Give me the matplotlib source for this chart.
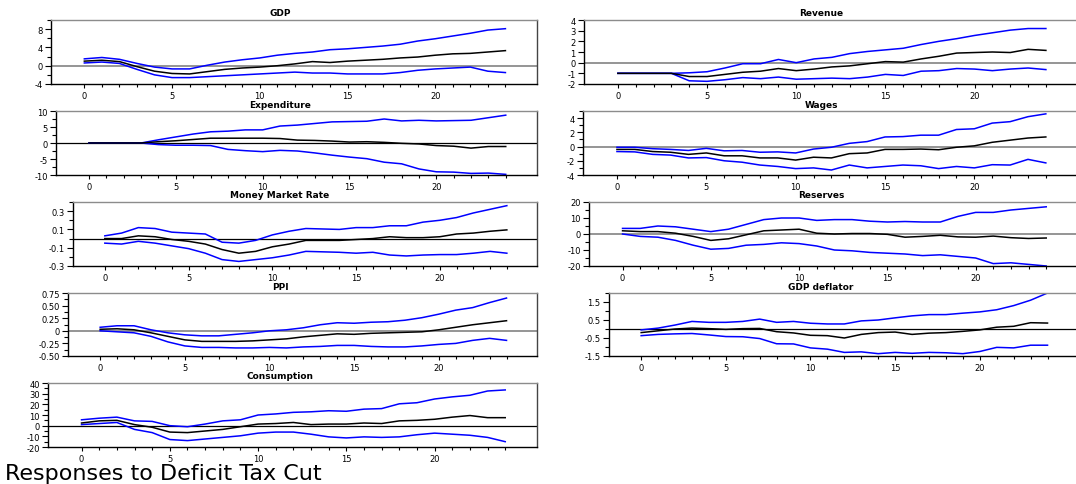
import matplotlib
matplotlib.use("Agg")
import matplotlib.pyplot as plt
from matplotlib.ticker import MultipleLocator

plt.rcParams['font.family'] = ['DejaVu Sans']

horizon = list(range(25))

# impulse responses: lower band, point estimate, upper band
gdp_mid = [1.0, 1.2, 0.9, -0.2, -1.2, -1.7, -1.8, -1.3, -0.8, -0.5, -0.3, 0.0, 0.4,
           0.9, 0.7, 1.0, 1.2, 1.4, 1.7, 1.9, 2.3, 2.6, 2.7, 3.0, 3.3]
gdp_up = [1.5, 1.8, 1.4, 0.5, -0.3, -0.7, -0.7, 0.1, 0.8, 1.3, 1.7, 2.3, 2.7,
          3.0, 3.5, 3.7, 4.0, 4.3, 4.7, 5.4, 5.9, 6.5, 7.1, 7.8, 8.1]
gdp_lo = [0.6, 0.8, 0.5, -0.8, -2.0, -2.6, -2.6, -2.4, -2.2, -2.0, -1.8, -1.6, -1.4,
          -1.6, -1.6, -1.8, -1.8, -1.8, -1.5, -1.0, -0.7, -0.5, -0.3, -1.2, -1.5]

rev_mid = [-1.0, -1.0, -1.0, -1.0, -1.3, -1.3, -1.1, -0.9, -0.8, -0.55, -0.75, -0.6, -0.4,
           -0.3, -0.1, 0.1, 0.05, 0.35, 0.6, 0.9, 0.95, 1.0, 0.95, 1.25, 1.15]
rev_up = [-1.0, -1.0, -1.0, -1.0, -0.95, -0.85, -0.5, -0.1, -0.1, 0.3, 0.0, 0.35, 0.5,
          0.85, 1.05, 1.2, 1.35, 1.7, 2.0, 2.25, 2.55, 2.8, 3.05, 3.2, 3.2]
rev_lo = [-1.0, -1.0, -1.0, -1.0, -1.7, -1.75, -1.6, -1.4, -1.5, -1.35, -1.55, -1.5, -1.45,
          -1.5, -1.35, -1.1, -1.2, -0.8, -0.75, -0.55, -0.6, -0.75, -0.6, -0.5, -0.65]

exp_mid = [0, 0, 0, 0, 0.4, 0.7, 1.1, 1.5, 1.5, 1.5, 1.5, 1.4, 0.9,
           0.8, 0.6, 0.3, 0.4, 0.2, -0.1, -0.3, -0.8, -1.0, -1.6, -1.1, -1.1]
exp_up = [0, 0, 0, 0, 1.0, 1.9, 2.8, 3.5, 3.7, 4.1, 4.1, 5.3, 5.6,
          6.1, 6.6, 6.7, 6.8, 7.5, 6.9, 7.1, 6.9, 7.0, 7.1, 7.9, 8.7]
exp_lo = [0, 0, 0, 0, -0.5, -0.7, -0.7, -0.8, -2.0, -2.4, -2.7, -2.3, -2.5,
          -3.1, -3.8, -4.4, -4.9, -6.0, -6.5, -8.1, -9.0, -9.1, -9.5, -9.4, -9.8]

wag_mid = [-0.4, -0.4, -0.7, -0.8, -1.1, -0.9, -1.3, -1.3, -1.6, -1.6, -1.9, -1.5, -1.6,
           -1.0, -0.9, -0.4, -0.4, -0.35, -0.45, -0.1, 0.1, 0.6, 0.9, 1.2, 1.35]
wag_up = [-0.1, -0.1, -0.3, -0.4, -0.55, -0.25, -0.6, -0.55, -0.8, -0.75, -0.9, -0.35, -0.1,
          0.45, 0.7, 1.35, 1.4, 1.6, 1.6, 2.4, 2.5, 3.3, 3.5, 4.2, 4.6]
wag_lo = [-0.7, -0.75, -1.1, -1.2, -1.6, -1.55, -2.0, -2.2, -2.6, -2.8, -3.1, -3.0, -3.3,
          -2.6, -3.0, -2.8, -2.6, -2.7, -3.1, -2.8, -3.0, -2.55, -2.6, -1.8, -2.3]

mmr_mid = [0.0, 0.0, 0.03, 0.02, -0.01, -0.03, -0.06, -0.12, -0.16, -0.14, -0.09, -0.06, -0.02,
           -0.02, -0.02, -0.01, 0.0, 0.02, 0.01, 0.01, 0.02, 0.05, 0.06, 0.08, 0.095]
mmr_up = [0.03, 0.06, 0.12, 0.11, 0.07, 0.06, 0.05, -0.04, -0.05, -0.02, 0.04, 0.08, 0.11,
          0.105, 0.10, 0.12, 0.12, 0.14, 0.14, 0.18, 0.20, 0.23, 0.28, 0.32, 0.36]
mmr_lo = [-0.05, -0.06, -0.03, -0.05, -0.08, -0.11, -0.16, -0.23, -0.25, -0.23, -0.21, -0.18, -0.14,
          -0.145, -0.15, -0.16, -0.15, -0.18, -0.19, -0.18, -0.175, -0.175, -0.16, -0.14, -0.16]

res_mid = [2, 1.5, 1.5, 0.5, -1.5, -4, -3, -0.5, 2, 2.5, 3, 0.5, 0,
           0.3, 0.3, -0.2, -2, -1.5, -0.8, -1.8, -2, -1.3, -2.3, -2.8, -2.5]
res_up = [3.5, 3.5, 5, 4.5, 3, 1.5, 3, 6, 9, 10, 10, 8.5, 9,
          9, 8, 7.5, 7.8, 7.5, 7.5, 11, 13.5, 13.5, 15, 16, 17]
res_lo = [0, -1.5, -2, -4, -7, -9.5, -9, -7, -6.5, -5.5, -6, -7.5, -10,
          -10.5, -11.5, -12, -12.5, -13.5, -13, -14, -15, -18.5, -18, -19, -20]

ppi_mid = [0.03, 0.04, 0.02, -0.04, -0.11, -0.18, -0.21, -0.21, -0.21, -0.20, -0.18, -0.16, -0.12,
           -0.09, -0.06, -0.07, -0.05, -0.04, -0.03, -0.02, 0.02, 0.07, 0.12, 0.16, 0.20]
ppi_up = [0.07, 0.10, 0.10, 0.02, -0.04, -0.08, -0.10, -0.10, -0.07, -0.04, 0.0, 0.02, 0.06,
          0.12, 0.16, 0.15, 0.17, 0.18, 0.21, 0.26, 0.33, 0.41, 0.46, 0.56, 0.65]
ppi_lo = [0.0, -0.02, -0.04, -0.11, -0.22, -0.30, -0.33, -0.33, -0.34, -0.34, -0.33, -0.34, -0.32,
          -0.31, -0.29, -0.29, -0.31, -0.32, -0.32, -0.30, -0.27, -0.25, -0.19, -0.15, -0.19]

def_mid = [-0.2, -0.1, 0.0, 0.05, 0.02, -0.02, 0.02, 0.03, -0.15, -0.22, -0.35, -0.37, -0.5,
           -0.3, -0.2, -0.17, -0.3, -0.23, -0.2, -0.13, -0.05, 0.1, 0.15, 0.35, 0.33]
def_up = [-0.05, 0.05, 0.22, 0.42, 0.37, 0.37, 0.42, 0.55, 0.37, 0.42, 0.32, 0.28, 0.28,
          0.45, 0.5, 0.62, 0.73, 0.8, 0.8, 0.88, 0.95, 1.07, 1.3, 1.6, 2.0]
def_lo = [-0.37, -0.3, -0.27, -0.25, -0.33, -0.42, -0.43, -0.53, -0.82, -0.83, -1.05, -1.12, -1.3,
          -1.27, -1.37, -1.3, -1.35, -1.3, -1.32, -1.37, -1.25, -1.02, -1.05, -0.9, -0.9]

con_mid = [2.5, 4.5, 5, 1, -1.5, -6, -6.5, -5, -3.5, -1, 1.5, 2, 3,
           1, 1.5, 1.5, 2.5, 2, 4.5, 5, 6, 8, 9.5, 7.5, 7.5]
con_up = [5.5, 7, 8, 4.5, 4, 0, -1, 1.5, 4.5, 5.5, 10, 11, 12.5,
          13, 14, 13.5, 15.5, 16, 20.5, 21.5, 25, 27, 28.5, 32.5, 33.5]
con_lo = [1, 2, 3, -3.5, -6.5, -13, -14, -12.5, -11, -9.5, -7, -6, -6,
          -8, -10.5, -11.5, -10.5, -11, -10.5, -8.5, -7, -8, -9, -11, -15]

W, H = 1076, 485
fig = plt.figure(figsize=(W / 100, H / 100), dpi=100)

# title, series, ylim, major step, minor step, tick format, zero colour, box in px (left, top, right, bottom)
panels = [
    ("GDP", gdp_lo, gdp_mid, gdp_up, (-4, 10), 4, 2, "{:g}", "#8c8c8c", (51, 21, 537, 85), 280),
    ("Revenue", rev_lo, rev_mid, rev_up, (-2, 4), 1, 1, "{:g}", "#8c8c8c", (584, 21, 1078, 85), 821),
    ("Expenditure", exp_lo, exp_mid, exp_up, (-10, 10), 5, 2.5, "{:g}", "black", (56, 112, 537, 176), 280),
    ("Wages", wag_lo, wag_mid, wag_up, (-4, 5), 2, 1, "{:g}", "#8c8c8c", (583, 112, 1078, 176), 821),
    ("Money Market Rate", mmr_lo, mmr_mid, mmr_up, (-0.3, 0.4), 0.2, 0.1, "{:.1f}", "black", (73, 203, 537, 267), 280),
    ("Reserves", res_lo, res_mid, res_up, (-20, 20), 10, 5, "{:g}", "#8c8c8c", (589, 203, 1078, 267), 821),
    ("PPI", ppi_lo, ppi_mid, ppi_up, (-0.5, 0.75), 0.25, 0.125, "{:.2f}", "#8c8c8c", (68, 294, 537, 357), 280),
    ("GDP deflator", def_lo, def_mid, def_up, (-1.5, 2.0), 1.0, 0.5, "{:.1f}", "black", (609, 294, 1078, 357), 821),
    ("Consumption", con_lo, con_mid, con_up, (-20, 40), 10, 5, "{:g}", "black", (48, 384, 537, 448), 280),
]

for title, lo, mid, up, ylim, major, minor, fmt, zcol, box, tx in panels:
    l, t, r, b = box
    ax = fig.add_axes([l / W, 1 - b / H, (r - l) / W, (b - t) / H])
    ax.axhline(0, color=zcol, lw=1.3 if zcol != "black" else 0.9, zorder=1)
    ax.plot(horizon, up, color="#0000ff", lw=1.1)
    ax.plot(horizon, lo, color="#0000ff", lw=1.1)
    ax.plot(horizon, mid, color="black", lw=1.1)
    ax.set_xlim(-1.9, 25.8)
    ax.set_ylim(*ylim)
    if title == "Money Market Rate":
        ax.set_yticks([-0.3, -0.1, 0.1, 0.3])
    elif title == "GDP deflator":
        ax.set_yticks([-1.5, -0.5, 0.5, 1.5])
    else:
        ax.yaxis.set_major_locator(MultipleLocator(major))
    ax.yaxis.set_minor_locator(MultipleLocator(minor))
    ax.set_yticklabels([fmt.format(v).replace("-0.00", "0").replace("0.00", "0") if fmt == "{:.2f}" else fmt.format(v)
                        for v in ax.get_yticks()])
    ax.set_ylim(*ylim)
    ax.set_xticks([0, 5, 10, 15, 20])
    ax.set_xticks(horizon, minor=True)
    ax.tick_params(axis="both", which="both", direction="out", labelsize=6, width=0.8, pad=2)
    ax.tick_params(axis="y", which="major", length=4)
    ax.tick_params(axis="y", which="minor", length=3)
    ax.tick_params(axis="x", which="major", length=3)
    ax.tick_params(axis="x", which="minor", length=2)
    ax.spines["top"].set_color("#8c8c8c")
    ax.spines["right"].set_color("#444444")
    for s in ax.spines.values():
        s.set_linewidth(1.0)
    fig.text(tx / W, 1 - (t - 7) / H, title, ha="center", va="center",
             fontsize=6.5, fontweight="bold")

fig.text(5 / W, 1 - 474 / H, "Responses to Deficit Tax Cut", ha="left", va="center", fontsize=16)

fig.savefig("out.png", dpi=100)
